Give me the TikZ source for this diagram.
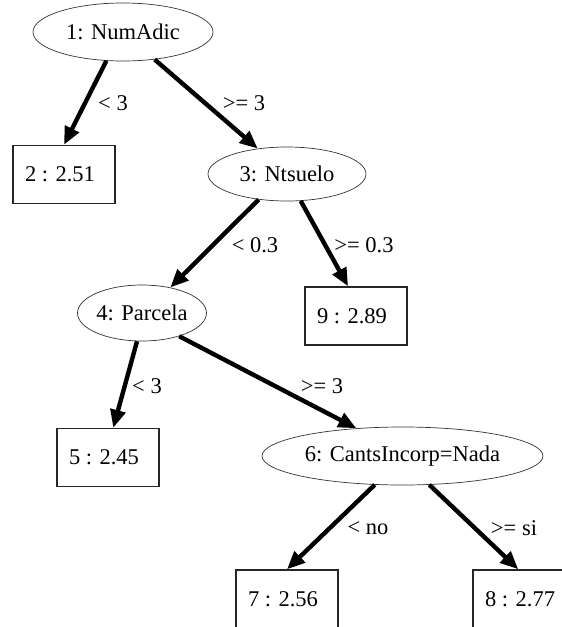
\documentclass[tikz,border=0pt]{standalone}
\usepackage{fontspec}
\setmainfont{Liberation Serif}
\usetikzlibrary{shapes.geometric,arrows.meta}
\begin{document}
\begin{tikzpicture}[x=1pt,y=-1pt,
  font=\fontsize{22.5}{26}\selectfont,
  split/.style={ellipse,draw=black!80,line width=0.7pt,inner sep=0pt},
  leaf/.style={rectangle,draw=black!85,line width=1.4pt,inner sep=0pt,
               minimum width=102pt,minimum height=58pt},
  edge/.style={line width=4.4pt,-{Triangle[length=18pt,width=15pt]}},
  lbl/.style={inner sep=0pt}]
\useasboundingbox (0,0) rectangle (562,627);
\clip (0,0) rectangle (562,627);

% split nodes
\node[split,minimum width=180pt,minimum height=58pt] (n1) at (123,32) {1: NumAdic};
\node[split,minimum width=158pt,minimum height=54pt] (n3) at (287,174) {3: Ntsuelo};
\node[split,minimum width=116pt,minimum height=56pt] (n4) at (142,313) {4: Parcela};
\node[split,minimum width=281pt,minimum height=58pt] (n6) at (402.5,456) {6: CantsIncorp=Nada};

% leaves (values sit a little left of the box centre)
\node[leaf] (n2) at (64,174.5) {\hspace*{-8pt}2 : 2.51};
\node[leaf] (n9) at (356,316) {\hspace*{-8pt}9 : 2.89};
\node[leaf] (n5) at (108,457.5) {\hspace*{-8pt}5 : 2.45};
\node[leaf] (n7) at (287,599) {\hspace*{-8pt}7 : 2.56};
\node[leaf] (n8) at (524,599) {\hspace*{-8pt}8 : 2.77};

% branches
\draw[edge] (n1.240) -- (n2.north);
\draw[edge] (n1.319) -- (n3.139);
\draw[edge] (n3.222) -- (n4.42);
\draw[edge] (n3.297) -- (n9.105);
\draw[edge] (n4.260) -- (n5.80);
\draw[edge] (n4.328) -- (n6.149.5);
\draw[edge] (n6.226.5) -- (n7.north);
\draw[edge] (n6.313.5) -- (n8.101.7);

% branch labels
\node[lbl] (l12) at (113,103) {< 3};
\node[lbl] (l13) at (244,103) {>= 3};
\node[lbl] (l34) at (255,245) {< 0.3};
\node[lbl] (l39) at (364,245) {>= 0.3};
\node[lbl] (l45) at (147,386) {< 3};
\node[lbl] (l46) at (322,386) {>= 3};
\node[lbl] (l67) at (368,528) {< no};
\node[lbl] (l68) at (514,528) {>= si};
\end{tikzpicture}
\end{document}
